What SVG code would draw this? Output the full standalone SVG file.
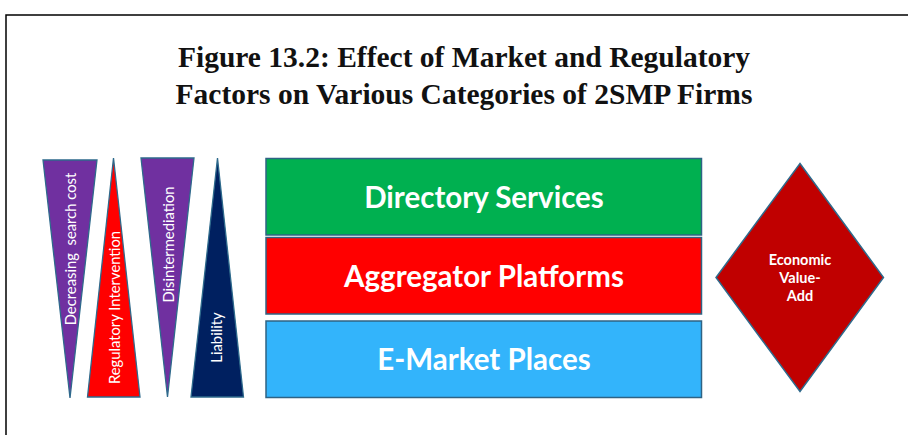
<svg xmlns="http://www.w3.org/2000/svg" width="908" height="435" viewBox="0 0 908 435">
<style>
.title{font-family:"Liberation Serif",serif;font-weight:bold;font-size:29.5px;fill:#111;text-anchor:middle}
.tri{stroke:#2E6A8C;stroke-width:1.3}
.box{stroke:#2F6384;stroke-width:1.5}
.big{font-family:Lato,"Open Sans",sans-serif;font-weight:bold;font-size:29.5px;fill:#fff;text-anchor:middle}
.vt{font-family:Lato,"Open Sans",sans-serif;font-size:14.8px;fill:#fff;text-anchor:middle;white-space:pre}
.dt{font-family:Lato,"Open Sans",sans-serif;font-weight:bold;font-size:14.5px;fill:#fff;text-anchor:middle}
</style>
<rect width="908" height="435" fill="#fff"/>
<path d="M6,436 V15 H909" fill="none" stroke="#000" stroke-width="1.5"/>
<g id="title">
<text class="title" x="464" y="67">Figure 13.2: Effect of Market and Regulatory</text>
<text class="title" x="464" y="104">Factors on Various Categories of 2SMP Firms</text>
</g>
<g id="decreasing-search-cost">
<polygon class="tri" points="43,160 97,160 70,398" fill="#7030A0"/>
<text class="vt" xml:space="preserve" transform="translate(76,249) rotate(-90)">Decreasing  search cost</text>
</g>
<g id="regulatory-intervention">
<polygon class="tri" points="113.5,158 140,397 87.5,397" fill="#FF0000"/>
<text class="vt" transform="translate(119.5,307.5) rotate(-90)">Regulatory Intervention</text>
</g>
<g id="disintermediation">
<polygon class="tri" points="141,158 194,158 167.5,397" fill="#7030A0"/>
<text class="vt" transform="translate(173.5,244.5) rotate(-90)">Disintermediation</text>
</g>
<g id="liability">
<polygon class="tri" points="217.5,158 243.5,397 191,397" fill="#002060"/>
<text class="vt" transform="translate(222,337.5) rotate(-90)">Liability</text>
</g>
<g id="directory-services">
<rect class="box" x="266" y="158.5" width="435.5" height="76.5" fill="#00B050"/>
<text class="big" x="484" y="207.5">Directory Services</text>
</g>
<g id="aggregator-platforms">
<rect class="box" x="266" y="237.5" width="435.5" height="76.5" fill="#FF0000"/>
<text class="big" x="484" y="287">Aggregator Platforms</text>
</g>
<g id="e-market-places">
<rect class="box" x="266" y="321" width="435.5" height="76.5" fill="#33B4FB"/>
<text class="big" x="484" y="369.5">E-Market Places</text>
</g>
<g id="economic-value-add">
<polygon points="800,163.5 883.5,277.5 800,391.5 716,277.5" fill="#C00000" stroke="#2E6A8C" stroke-width="1.5"/>
<text class="dt" x="800" y="265">Economic</text>
<text class="dt" x="800" y="283">Value-</text>
<text class="dt" x="800" y="301">Add</text>
</g>
<g id="connectors"/>
</svg>
